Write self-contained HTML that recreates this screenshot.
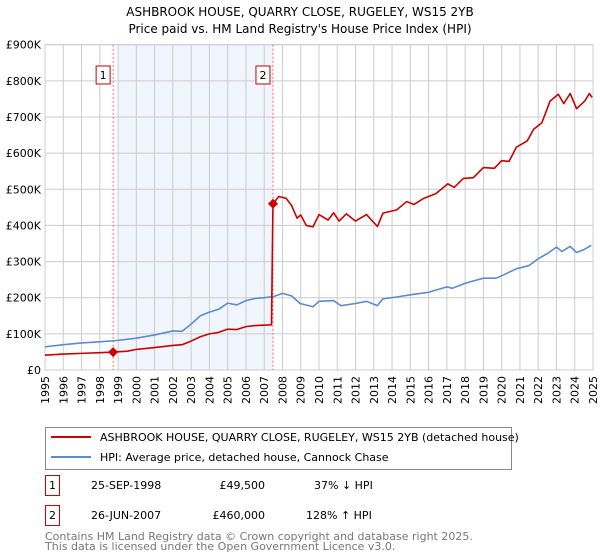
<!DOCTYPE html>
<html><head><meta charset="utf-8"><style>
body{margin:0;background:#fff;font-family:"DejaVu Sans","Liberation Sans",sans-serif;}
#wrap{position:relative;width:600px;height:560px;overflow:hidden}
</style></head><body>
<div id="wrap">
<svg id="chart" width="600" height="560" xmlns="http://www.w3.org/2000/svg" font-family="DejaVu Sans, Liberation Sans, sans-serif">
<text x="300" y="16" text-anchor="middle" font-size="12">ASHBROOK HOUSE, QUARRY CLOSE, RUGELEY, WS15 2YB</text>
<text x="300" y="33" text-anchor="middle" font-size="12">Price paid vs. HM Land Registry's House Price Index (HPI)</text>
<g id="grid"></g><g id="marks"></g><g id="axes"></g>
<g>
<rect x="45.5" y="427.5" width="466" height="42" fill="#fff" stroke="#888"/>
<line x1="51" y1="437" x2="91" y2="437" stroke="#cc0000" stroke-width="2"/>
<text x="100" y="441" font-size="11">ASHBROOK HOUSE, QUARRY CLOSE, RUGELEY, WS15 2YB (detached house)</text>
<line x1="51" y1="457" x2="91" y2="457" stroke="#5b8bd0" stroke-width="2"/>
<text x="100" y="461" font-size="11">HPI: Average price, detached house, Cannock Chase</text>
</g>
<g font-size="11">
<rect x="45.5" y="475.5" width="14" height="20" fill="#fff" stroke="#cc0000"/>
<text x="52.5" y="489" text-anchor="middle">1</text>
<text x="91" y="489">25-SEP-1998</text>
<text x="265" y="489" text-anchor="end">£49,500</text>
<text x="314" y="489">37% ↓ HPI</text>
<rect x="45.5" y="505.5" width="14" height="20" fill="#fff" stroke="#cc0000"/>
<text x="52.5" y="519" text-anchor="middle">2</text>
<text x="91" y="519">26-JUN-2007</text>
<text x="265" y="519" text-anchor="end">£460,000</text>
<text x="306" y="519">128% ↑ HPI</text>
</g>
<text x="45" y="540" font-size="11" fill="#777">Contains HM Land Registry data © Crown copyright and database right 2025.</text>
<text x="45" y="550" font-size="11" fill="#777">This data is licensed under the Open Government Licence v3.0.</text>
</svg>
</div>
<script>
const yTicks=[0,100000,200000,300000,400000,500000,600000,700000,800000,900000];
const yTickLabels=["£0","£100K","£200K","£300K","£400K","£500K","£600K","£700K","£800K","£900K"];
const xYears=[1995,1996,1997,1998,1999,2000,2001,2002,2003,2004,2005,2006,2007,2008,2009,2010,2011,2012,2013,2014,2015,2016,2017,2018,2019,2020,2021,2022,2023,2024,2025];
const saleDates=[1998.73,2007.48];
const salePrices=[49500,460000];
const saleLabels=["1","2"];
const propT=[1995,1996,1997,1998,1998.73,1999.5,2000,2001,2002,2002.5,2003,2003.5,2004,2004.5,2005,2005.5,2006,2006.5,2007.4,2007.48,2007.8,2008.2,2008.5,2008.8,2009,2009.3,2009.67,2010,2010.5,2010.8,2011.1,2011.5,2012,2012.6,2013.2,2013.5,2014.25,2014.8,2015.2,2015.7,2016.4,2017.05,2017.4,2017.9,2018.45,2019,2019.6,2020,2020.4,2020.8,2021.4,2021.75,2022.2,2022.65,2023.1,2023.4,2023.75,2024.1,2024.55,2024.8,2024.95];
const propV=[41000,44000,46000,48000,49500,52000,57000,62000,68000,70000,80000,92000,100000,104000,113000,112000,120000,123000,125000,460000,480000,475000,455000,420000,429000,400000,396000,430000,415000,435000,412000,432000,412000,430000,397000,434000,443000,466000,458000,474000,488000,515000,505000,530000,532000,560000,558000,579000,577000,616000,634000,666000,684000,744000,763000,737000,765000,723000,744000,765000,754000];
const hpiT=[1995,1996,1997,1998,1999,2000,2001,2002,2002.5,2003,2003.5,2004,2004.5,2005,2005.5,2006,2006.5,2007,2007.5,2008,2008.5,2008.96,2009.67,2010,2010.8,2011.2,2012,2012.6,2013.2,2013.5,2014.25,2015,2016,2017,2017.3,2018,2019,2019.7,2020.1,2020.8,2021.5,2022,2022.5,2023,2023.3,2023.75,2024.1,2024.5,2024.9];
const hpiV=[64000,70000,75000,78000,82000,88000,97000,108000,107000,127000,150000,160000,168000,185000,180000,192000,198000,200000,203000,212000,205000,184000,175000,190000,192000,178000,184000,190000,178000,197000,202000,208000,215000,230000,226000,240000,254000,254000,263000,280000,289000,308000,322000,340000,328000,342000,325000,333000,345000];

const X0=45,X1=593,Y0=370,Y1=44.7;
const xs=t=>X0+(t-1995)/(2025-1995)*(X1-X0);
const ys=v=>Y0-v/900000*(Y0-Y1);
const NS="http://www.w3.org/2000/svg";
function mk(tag,attrs,parent){const e=document.createElementNS(NS,tag);for(const k in attrs)e.setAttribute(k,attrs[k]);parent.appendChild(e);return e;}
const grid=document.getElementById('grid'),marks=document.getElementById('marks'),axes=document.getElementById('axes');
const sh=mk('rect',{x:xs(1999),y:Y1,width:xs(2007.48)-xs(1999),height:Y0-Y1,fill:'#eef2fc',opacity:0.8},grid);


xYears.forEach(y=>{const l=mk('line',{x1:xs(y),x2:xs(y),y1:Y1,y2:Y0,stroke:'#cccccc','stroke-width':1},grid);


const t=mk('text',{x:0,y:0,'font-size':11,'text-anchor':'end',transform:`translate(${xs(y)+4},${Y0+6}) rotate(-90)`},axes);t.textContent=y;

});
yTicks.forEach((v,i)=>{const l=mk('line',{x1:X0,x2:X1,y1:ys(v),y2:ys(v),stroke:'#cccccc','stroke-width':1},grid);


const t=mk('text',{x:X0-4,y:ys(v)+4,'font-size':11,'text-anchor':'end'},axes);t.textContent=yTickLabels[i];

});
const fr=mk('rect',{x:X0,y:Y1,width:X1-X0,height:Y0-Y1,fill:'none',stroke:'#cccccc'},grid);


saleDates.forEach((d,i)=>{const l=mk('line',{x1:xs(d),x2:xs(d),y1:Y1,y2:Y0,stroke:'#ff6666','stroke-dasharray':'2,2','stroke-width':1},marks);


const b=mk('rect',{x:xs(d)-17,y:66,width:14,height:18,fill:'#fff',stroke:'#cc0000'},marks);


const t=mk('text',{x:xs(d)-10,y:79,'font-size':11,'text-anchor':'middle'},marks);t.textContent=saleLabels[i];

});
function line(T,V,c,name){const p=mk('polyline',{points:T.map((t,i)=>xs(t)+','+ys(V[i])).join(' '),fill:'none',stroke:c,'stroke-width':1.6,'stroke-linejoin':'round'},marks);

}
line(hpiT,hpiV,'#5b8bd0','hpi-line');
line(propT,propV,'#cc0000','property-price-line');
saleDates.forEach((d,i)=>{const c=mk('path',{d:`M${xs(d)},${ys(salePrices[i])-5}l5,5l-5,5l-5,-5z`,fill:'#cc0000'},marks);

});
</script>
</body></html>
